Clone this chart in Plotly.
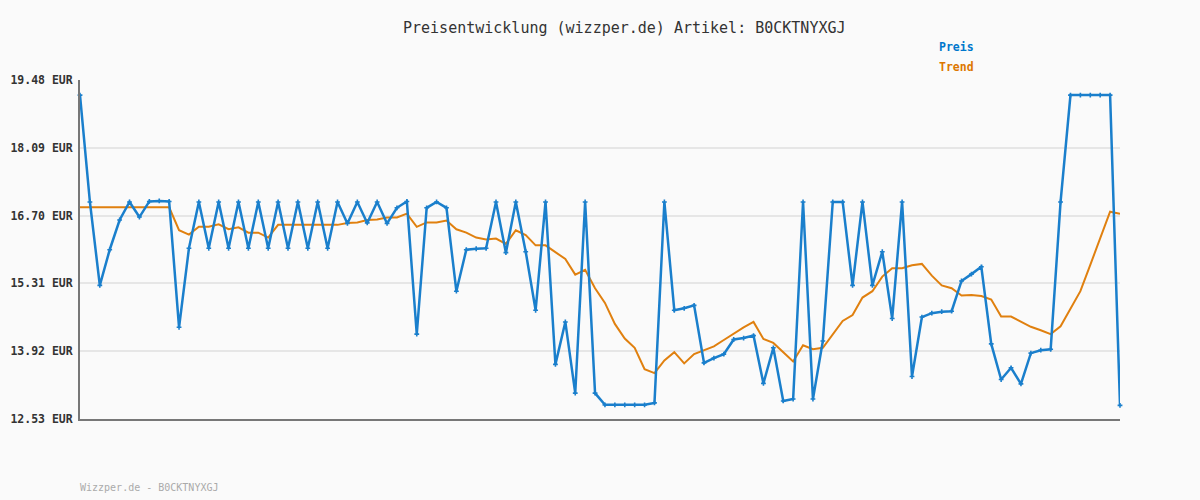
import plotly.graph_objects as go

preis = [19.17, 16.98, 15.27, 16.00, 16.61, 16.98, 16.67, 16.99, 17.00, 16.99,
         14.41, 16.03, 16.98, 16.03, 16.98, 16.03, 16.98, 16.03, 16.98, 16.03,
         16.98, 16.03, 16.98, 16.03, 16.98, 16.03, 16.98, 16.54, 16.98, 16.55,
         16.98, 16.54, 16.86, 16.99, 14.27, 16.86, 16.98, 16.86, 15.15, 16.00,
         16.02, 16.03, 16.98, 15.94, 16.98, 15.96, 14.76, 16.98, 13.65, 14.52,
         13.06, 16.98, 13.06, 12.82, 12.82, 12.82, 12.82, 12.82, 12.86, 16.98,
         14.76, 14.80, 14.86, 13.68, 13.78, 13.86, 14.16, 14.19, 14.24, 13.26,
         13.99, 12.90, 12.94, 16.98, 12.94, 14.13, 16.98, 16.98, 15.27, 16.98,
         15.27, 15.96, 14.59, 16.98, 13.40, 14.62, 14.70, 14.73, 14.74, 15.36,
         15.50, 15.65, 14.07, 13.34, 13.58, 13.25, 13.88, 13.94, 13.96, 16.98,
         19.17, 19.17, 19.17, 19.17, 19.17, 12.81]

trend = [16.87, 16.87, 16.87, 16.87, 16.87, 16.87, 16.87, 16.87, 16.87, 16.87,
         16.40, 16.31, 16.47, 16.47, 16.52, 16.42, 16.46, 16.35, 16.35, 16.25,
         16.51, 16.51, 16.51, 16.51, 16.51, 16.51, 16.51, 16.55, 16.56, 16.61,
         16.62, 16.66, 16.66, 16.74, 16.47, 16.56, 16.56, 16.60, 16.42, 16.35,
         16.25, 16.21, 16.23, 16.12, 16.40, 16.30, 16.09, 16.09, 15.95, 15.81,
         15.49, 15.59, 15.21, 14.91, 14.48, 14.18, 13.99, 13.55, 13.47, 13.73,
         13.90, 13.67, 13.86, 13.94, 14.02, 14.15, 14.28, 14.41, 14.52, 14.17,
         14.09, 13.90, 13.71, 14.04, 13.96, 13.99, 14.27, 14.54, 14.66, 15.02,
         15.15, 15.45, 15.62, 15.62, 15.68, 15.71, 15.47, 15.27, 15.21, 15.06,
         15.07, 15.05, 14.98, 14.63, 14.63, 14.52, 14.42, 14.35, 14.27, 14.43,
         14.80, 15.15, 15.69, 16.25, 16.78, 16.74]

y_ticks = [12.53, 13.92, 15.31, 16.70, 18.09, 19.48]
y_tick_labels = ["12.53 EUR", "13.92 EUR", "15.31 EUR", "16.70 EUR", "18.09 EUR", "19.48 EUR"]

title_text = "Preisentwicklung (wizzper.de) Artikel: B0CKTNYXGJ"
footer_text = "Wizzper.de - B0CKTNYXGJ"
series_names = ["Preis", "Trend"]

BLUE = "#1a7fcc"
ORANGE = "#e0800f"
MONO = "DejaVu Sans Mono"

x = list(range(len(preis)))

fig = go.Figure()
fig.add_trace(go.Scatter(
    x=x, y=trend, mode="lines", name=series_names[1],
    line=dict(color=ORANGE, width=2), cliponaxis=False))
fig.add_trace(go.Scatter(
    x=x, y=preis, mode="lines+markers", name=series_names[0],
    line=dict(color=BLUE, width=2.5),
    marker=dict(symbol="cross", size=4, color=BLUE), cliponaxis=False))

fig.update_layout(
    width=1200, height=500,
    margin=dict(l=80, r=80, t=80, b=81, autoexpand=False),
    paper_bgcolor="#fafafa", plot_bgcolor="#fafafa",
    showlegend=False,
    xaxis=dict(range=[0, len(preis) - 1], showgrid=False, zeroline=False,
               showticklabels=False, ticks="", showline=True, automargin=False,
               linecolor="#777777", linewidth=2),
    yaxis=dict(range=[y_ticks[0], y_ticks[-1]], tickvals=y_ticks, ticktext=y_tick_labels,
               showgrid=True, gridcolor="#e6e6e6", gridwidth=2, zeroline=False,
               showline=True, linecolor="#777777", linewidth=2, ticks="",
               ticklabelstandoff=3, automargin=False,
               tickfont=dict(family=MONO, size=11.5, color="#333333", weight="bold")),
    annotations=[
        dict(text=title_text, xref="paper", yref="paper", x=(624 - 80) / 1040, y=1 + (80 - 28) / 339,
             xanchor="center", yanchor="middle", showarrow=False,
             font=dict(family=MONO, size=15, color="#333333")),
        dict(text=series_names[0], xref="paper", yref="paper", x=(937 - 80) / 1040, y=1 + (80 - 47) / 339,
             xanchor="left", yanchor="middle", showarrow=False,
             font=dict(family=MONO, size=11.5, color="#0077cc", weight="bold")),
        dict(text=series_names[1], xref="paper", yref="paper", x=(937 - 80) / 1040, y=1 + (80 - 67) / 339,
             xanchor="left", yanchor="middle", showarrow=False,
             font=dict(family=MONO, size=11.5, color="#dd7700", weight="bold")),
        dict(text=footer_text, xref="paper", yref="paper", x=-2 / 1040, y=-(487 - 419) / 339,
             xanchor="left", yanchor="middle", showarrow=False,
             font=dict(family=MONO, size=10, color="#aaaaaa")),
    ],
)

fig.write_html("out.html")
